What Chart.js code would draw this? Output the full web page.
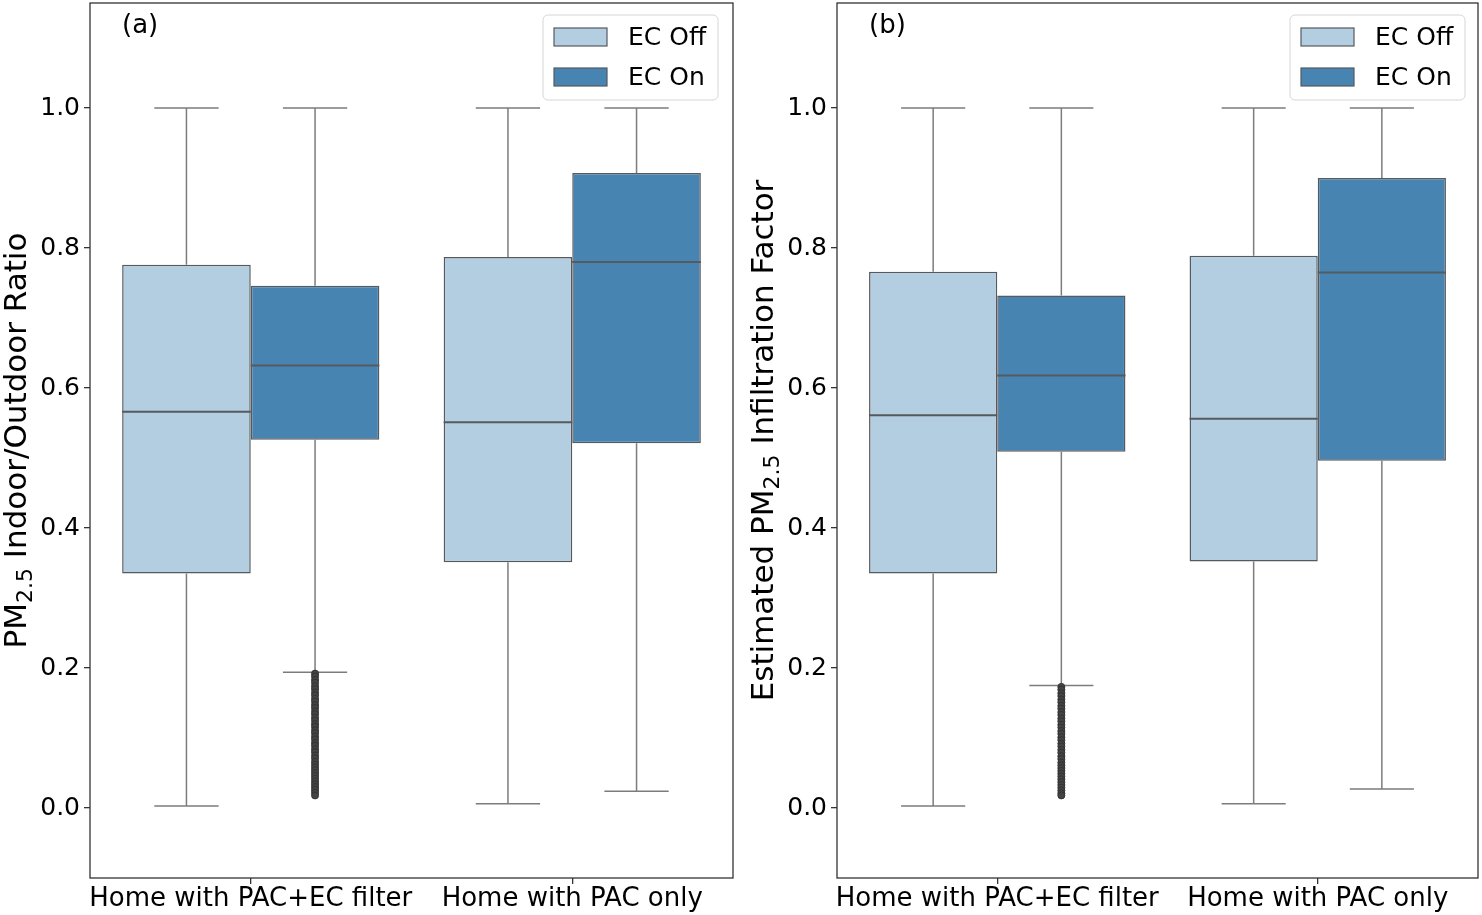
<!DOCTYPE html>
<html>
<head>
<meta charset="utf-8">
<script src="https://cdn.jsdelivr.net/npm/chart.js@4.4.1/dist/chart.umd.min.js"></script>
<style>
  html, body { margin: 0; padding: 0; background: #fff; }
  .panel { position: absolute; top: 0; height: 915px; }
  #panelA { left: 0; width: 740px; }
  #panelB { left: 740px; width: 742px; }
</style>
</head>
<body>
<div class="panel" id="panelA"><canvas id="chartA"></canvas></div>
<div class="panel" id="panelB"><canvas id="chartB"></canvas></div>
<script>
// categories and series
const categories = ['Home with PAC+EC filter', 'Home with PAC only'];
const seriesNames = ['EC Off', 'EC On'];
const yTicks = [0.0, 0.2, 0.4, 0.6, 0.8, 1.0];

// (a) indoor/outdoor ratio, per category
const ratioOffMin = [0.003, 0.006];
const ratioOffQ1 = [0.335, 0.351];
const ratioOffMed = [0.566, 0.551];
const ratioOffQ3 = [0.776, 0.787];
const ratioOffMax = [1.0, 1.0];
const ratioOnMin = [0.194, 0.024];
const ratioOnQ1 = [0.526, 0.521];
const ratioOnMed = [0.632, 0.780];
const ratioOnQ3 = [0.746, 0.907];
const ratioOnMax = [1.0, 1.0];
const ratioOnOutliers = [
    [0.192, 0.188, 0.183, 0.179, 0.174, 0.170, 0.165, 0.161, 0.156, 0.152,
     0.147, 0.143, 0.138, 0.134, 0.129, 0.125, 0.120, 0.116, 0.111, 0.107,
     0.102, 0.098, 0.093, 0.089, 0.084, 0.080, 0.075, 0.071, 0.066, 0.062,
     0.058, 0.054, 0.050, 0.046, 0.042, 0.038, 0.034, 0.030, 0.026, 0.022, 0.018],
    []
];

// (b) estimated infiltration factor, per category
const infOffMin = [0.003, 0.006];
const infOffQ1 = [0.335, 0.352];
const infOffMed = [0.561, 0.556];
const infOffQ3 = [0.766, 0.789];
const infOffMax = [1.0, 1.0];
const infOnMin = [0.175, 0.027];
const infOnQ1 = [0.509, 0.496];
const infOnMed = [0.618, 0.765];
const infOnQ3 = [0.732, 0.900];
const infOnMax = [1.0, 1.0];
const infOnOutliers = [
    [0.173, 0.169, 0.164, 0.160, 0.155, 0.151, 0.146, 0.142, 0.137, 0.133,
     0.128, 0.124, 0.119, 0.115, 0.110, 0.106, 0.101, 0.097, 0.092, 0.088,
     0.083, 0.079, 0.074, 0.070, 0.065, 0.061, 0.057, 0.053, 0.049, 0.045,
     0.041, 0.037, 0.033, 0.029, 0.025, 0.021, 0.018],
    []
];

const FONT = "'DejaVu Sans', sans-serif";
const LIGHT = '#b3cde1';
const DARK = '#4884b2';
const EDGE = '#555a5e';
const WHISKER = '#7c7c7c';

// whiskers, caps, medians, outliers drawn on top of the floating bars
const boxExtras = {
    id: 'boxExtras',
    afterDatasetsDraw(chart) {
        const ctx = chart.ctx;
        const y = chart.scales.y;
        chart.data.datasets.forEach((ds, di) => {
            const meta = chart.getDatasetMeta(di);
            meta.data.forEach((bar, i) => {
                const cx = bar.x;
                const half = bar.width / 2;
                const yMin = y.getPixelForValue(ds.stats.min[i]);
                const yMax = y.getPixelForValue(ds.stats.max[i]);
                const yQ1 = y.getPixelForValue(ds.data[i][0]);
                const yQ3 = y.getPixelForValue(ds.data[i][1]);
                const yMed = y.getPixelForValue(ds.stats.med[i]);
                ctx.save();
                ctx.strokeStyle = WHISKER;
                ctx.lineWidth = 1.5;
                ctx.beginPath();
                ctx.moveTo(cx, yQ3); ctx.lineTo(cx, yMax);
                ctx.moveTo(cx, yQ1); ctx.lineTo(cx, yMin);
                ctx.moveTo(cx - half / 2, yMax); ctx.lineTo(cx + half / 2, yMax);
                ctx.moveTo(cx - half / 2, yMin); ctx.lineTo(cx + half / 2, yMin);
                ctx.stroke();
                ctx.strokeStyle = EDGE;
                ctx.lineWidth = 2;
                ctx.beginPath();
                ctx.moveTo(cx - half, yMed); ctx.lineTo(cx + half, yMed);
                ctx.stroke();
                // outliers
                ctx.fillStyle = '#444';
                ctx.strokeStyle = '#333';
                ctx.lineWidth = 1;
                (ds.stats.outliers[i] || []).forEach(v => {
                    ctx.beginPath();
                    ctx.arc(cx, y.getPixelForValue(v), 3.5, 0, Math.PI * 2);
                    ctx.fill();
                    ctx.stroke();
                });
                ctx.restore();
            });
        });
    },
    afterDraw(chart, args, opts) {
        const ctx = chart.ctx;
        const a = chart.chartArea;
        ctx.save();
        // full frame
        ctx.strokeStyle = '#333';
        ctx.lineWidth = 1.3;
        ctx.strokeRect(a.left, a.top, a.right - a.left, a.bottom - a.top);

        // panel letter
        ctx.fillStyle = '#000';
        ctx.font = '26px ' + FONT;
        ctx.textBaseline = 'top';
        ctx.textAlign = 'left';
        ctx.fillText(opts.letter, a.left + 32, 13);

        // legend
        const lx = a.right - opts.legendRight - 175;
        const ly = 15;
        ctx.fillStyle = 'rgba(255,255,255,0.85)';
        ctx.strokeStyle = '#d6d6d6';
        ctx.lineWidth = 1;
        ctx.beginPath();
        ctx.roundRect(lx, ly, 175, 85, 5);
        ctx.fill();
        ctx.stroke();
        chart.data.datasets.forEach((ds, di) => {
            const cy = ly + 22 + di * 40;
            ctx.fillStyle = ds.backgroundColor;
            ctx.fillRect(lx + 11, cy - 9, 53, 18);
            ctx.strokeStyle = EDGE;
            ctx.lineWidth = 1.2;
            ctx.strokeRect(lx + 11, cy - 9, 53, 18);
            ctx.fillStyle = '#000';
            ctx.font = '25px ' + FONT;
            ctx.textBaseline = 'middle';
            ctx.fillText(ds.label, lx + 85, cy + 1);
        });

        // y title with subscript
        const parts = opts.yTitle;
        const big = '31px ' + FONT;
        const small = '22px ' + FONT;
        let total = 0;
        parts.forEach(p => { ctx.font = p.sub ? small : big; total += ctx.measureText(p.t).width; });
        ctx.translate(opts.titleX, (a.top + a.bottom) / 2);
        ctx.rotate(-Math.PI / 2);
        ctx.fillStyle = '#000';
        ctx.textBaseline = 'alphabetic';
        let x = -total / 2;
        parts.forEach(p => {
            ctx.font = p.sub ? small : big;
            ctx.fillText(p.t, x, p.sub ? 17 : 11);
            x += ctx.measureText(p.t).width;
        });
        ctx.restore();
    }
};

function makePanel(id, off, on, cfg) {
    return new Chart(document.getElementById(id), {
        type: 'bar',
        data: {
            labels: categories,
            datasets: [
                {
                    label: seriesNames[0],
                    data: categories.map((c, i) => [off.q1[i], off.q3[i]]),
                    stats: off,
                    backgroundColor: LIGHT,
                    borderColor: EDGE,
                    borderWidth: 1.5,
                    borderSkipped: false,
                    categoryPercentage: 0.8,
                    barPercentage: 1.0
                },
                {
                    label: seriesNames[1],
                    data: categories.map((c, i) => [on.q1[i], on.q3[i]]),
                    stats: on,
                    backgroundColor: DARK,
                    borderColor: EDGE,
                    borderWidth: 1.5,
                    borderSkipped: false,
                    categoryPercentage: 0.8,
                    barPercentage: 1.0
                }
            ]
        },
        options: {
            responsive: true,
            maintainAspectRatio: false,
            animation: false,
            layout: { padding: { top: 3, right: cfg.padRight, left: 0, bottom: 0 } },
            plugins: {
                legend: { display: false },
                tooltip: { enabled: false },
                boxExtras: cfg
            },
            scales: {
                x: {
                    grid: { offset: false, drawOnChartArea: false, drawTicks: true, tickLength: 6, color: '#333', lineWidth: 1.3 },
                    border: { display: false },
                    ticks: { color: '#000', font: { family: FONT, size: 26 }, padding: 0, maxRotation: 0, autoSkip: false },
                    afterFit(scale) { scale.height = 37; scale.paddingLeft = 0; scale.paddingRight = 0; }
                },
                y: {
                    min: -0.1,
                    max: 1.15,
                    grid: { drawOnChartArea: false, drawTicks: true, tickLength: 6, color: '#333', lineWidth: 1.3 },
                    border: { display: false },
                    afterBuildTicks(scale) { scale.ticks = yTicks.map(v => ({ value: v })); },
                    ticks: {
                        color: '#000',
                        font: { family: FONT, size: 25 },
                        padding: 4,
                        callback: v => v.toFixed(1)
                    },
                    afterFit(scale) { scale.width = cfg.axisWidth; scale.paddingTop = 0; scale.paddingBottom = 0; }
                }
            }
        },
        plugins: [boxExtras]
    });
}

makePanel('chartA',
    { min: ratioOffMin, q1: ratioOffQ1, med: ratioOffMed, q3: ratioOffQ3, max: ratioOffMax, outliers: [] },
    { min: ratioOnMin, q1: ratioOnQ1, med: ratioOnMed, q3: ratioOnQ3, max: ratioOnMax, outliers: ratioOnOutliers },
    {
        letter: '(a)', padRight: 7, axisWidth: 90, legendRight: 15, titleX: 15,
        yTitle: [{ t: 'PM' }, { t: '2.5', sub: true }, { t: ' Indoor/Outdoor Ratio' }]
    });

makePanel('chartB',
    { min: infOffMin, q1: infOffQ1, med: infOffMed, q3: infOffQ3, max: infOffMax, outliers: [] },
    { min: infOnMin, q1: infOnQ1, med: infOnMed, q3: infOnQ3, max: infOnMax, outliers: infOnOutliers },
    {
        letter: '(b)', padRight: 4, axisWidth: 97, legendRight: 13, titleX: 22,
        yTitle: [{ t: 'Estimated PM' }, { t: '2.5', sub: true }, { t: ' Infiltration Factor' }]
    });
</script>
</body>
</html>
